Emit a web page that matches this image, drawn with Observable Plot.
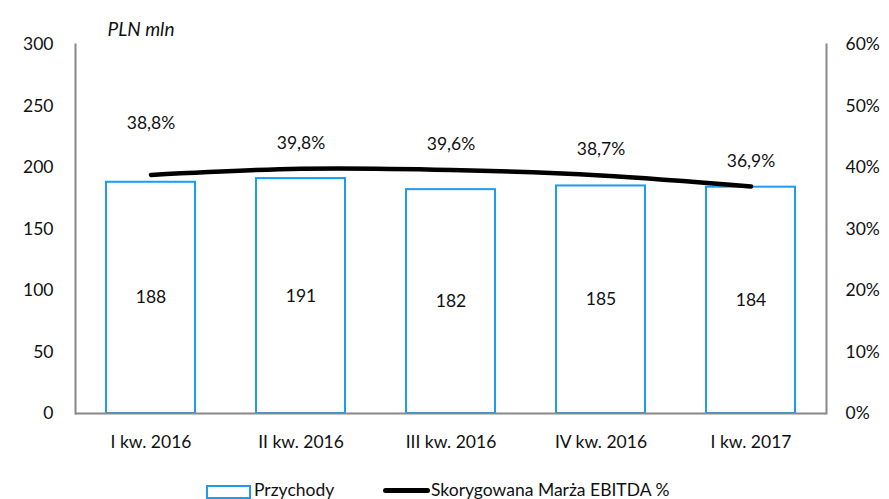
<!DOCTYPE html>
<html>
<head>
<meta charset="utf-8">
<script src="https://cdn.jsdelivr.net/npm/d3@7"></script>
<script src="https://cdn.jsdelivr.net/npm/@observablehq/plot@0.6"></script>
<style>
  body { margin: 0; background: #fff; font-family: Lato, "Open Sans", sans-serif; }
  #wrap { width: 889px; height: 499px; position: relative; overflow: hidden; }
  #wrap svg { position: absolute; left: 0; top: 0; }
  .lg { position: absolute; font-size: 17.5px; color: #111; line-height: 20px; white-space: nowrap; }
  .sw-bar { position: absolute; left: 206px; top: 485px; width: 41px; height: 10px; border: 2px solid #1a9cf0; }
  .sw-line { position: absolute; left: 383px; top: 488px; width: 47px; height: 5px; background: #000; border-radius: 2.5px; }
</style>
</head>
<body>
<div id="wrap"></div>
<script>
const quarters = ["I kw. 2016", "II kw. 2016", "III kw. 2016", "IV kw. 2016", "I kw. 2017"];
const revenue = [188, 191, 182, 185, 184];
const margin = [38.8, 39.8, 39.6, 38.7, 36.9];
const marginLabels = ["38,8%", "39,8%", "39,6%", "38,7%", "36,9%"];
const leftTicks = [0, 50, 100, 150, 200, 250, 300];
const rightTickLabels = ["0%", "10%", "20%", "30%", "40%", "50%", "60%"];
const legendLabels = ["Przychody", "Skorygowana Marża EBITDA %"];

// style: vertical lift of each percentage label (px)
const labelLift = [-51, -25, -26, -26, -25];

const pctToLeft = 300 / 60; // right axis 0-60% maps onto left 0-300
const data = quarters.map((q, i) => ({q, rev: revenue[i], pct: margin[i], pctY: margin[i] * pctToLeft, lbl: marginLabels[i]}));

const font = "Lato, 'Open Sans', sans-serif";
const fs = 17.5;
const H = 470;
const chart = Plot.plot({
  width: 889,
  height: H,
  marginLeft: 75,
  marginRight: 63,
  marginTop: 44,
  marginBottom: H - 413,
  style: {fontFamily: font, fontSize: fs + "px", color: "#111", background: "transparent"},
  x: {domain: quarters, paddingInner: 0.41, paddingOuter: 0.205, label: null},
  y: {domain: [0, 300], label: null},
  marks: [
    Plot.barY(data, {x: "q", y: "rev", fill: "#fff", stroke: "#1a9cf0", strokeWidth: 2}),
    Plot.text(data, {x: "q", y: d => d.rev / 2, text: d => String(d.rev), fontSize: fs, fill: "#111"}),
    Plot.line(data, {x: "q", y: "pctY", stroke: "#000", strokeWidth: 4.5, curve: "catmull-rom", strokeLinecap: "round"}),
    ...data.map((d, i) => Plot.text([d], {x: "q", y: "pctY", text: "lbl", dy: labelLift[i], fontSize: fs, fill: "#111"})),
    Plot.axisY({ticks: leftTicks, tickSize: 0, tickPadding: 22, fontSize: fs, label: null}),
    Plot.axisY({anchor: "right", ticks: leftTicks, tickSize: 0, tickPadding: 19, fontSize: fs, label: null,
      tickFormat: v => rightTickLabels[leftTicks.indexOf(v)]}),
    Plot.axisX({tickSize: 0, tickPadding: 22, fontSize: fs, label: null}),
    Plot.ruleY([0], {stroke: "#888", strokeWidth: 2}),
    Plot.frame({anchor: "left", stroke: "#888", strokeWidth: 2}),
    Plot.frame({anchor: "right", stroke: "#888", strokeWidth: 2}),
    Plot.text(["PLN mln"], {frameAnchor: "top-left", dx: 32, dy: -22, fontStyle: "italic", fontSize: 19, textAnchor: "start", fill: "#111"})
  ]
});

const wrap = document.getElementById("wrap");
wrap.appendChild(chart);
const add = (cls, text, left, top) => {
  const el = document.createElement("div");
  el.className = cls;
  if (text != null) el.textContent = text;
  if (left != null) { el.style.left = left + "px"; el.style.top = top + "px"; }
  wrap.appendChild(el);
};
add("sw-bar");
add("lg", legendLabels[0], 254, 480);
add("sw-line");
add("lg", legendLabels[1], 431, 480);
</script>
</body>
</html>
